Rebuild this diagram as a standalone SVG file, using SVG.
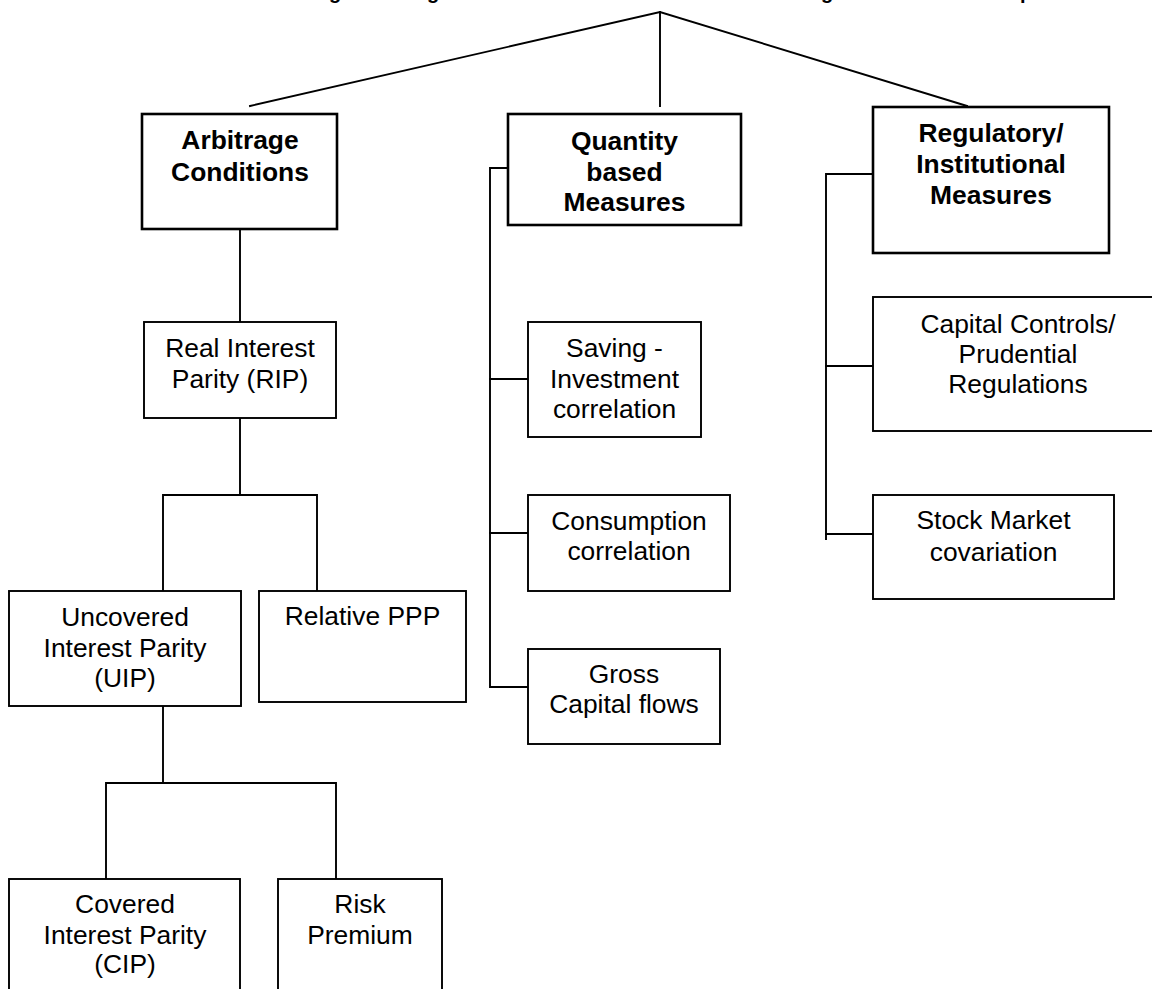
<svg xmlns="http://www.w3.org/2000/svg" width="1152" height="989" viewBox="0 0 1152 989">
<style>
.hdr{fill:#fff;stroke:#000;stroke-width:2.6}
.box{fill:#fff;stroke:#000;stroke-width:1.9}
.ln{fill:none;stroke:#000;stroke-width:1.9;stroke-linecap:square}
text{font-family:"Liberation Sans",Arial,sans-serif;font-size:26.4px;fill:#000;text-anchor:middle}
.b{font-weight:bold}
.t{font-weight:bold;font-size:20px}
</style>
<rect width="1152" height="989" fill="#fff"/>
<g id="title">
<text class="t" x="335" y="-1.5">g</text>
<text class="t" x="433" y="-1.5">g</text>
<text class="t" x="827" y="-1.5">g</text>
<text class="t" x="1026" y="-1.5">p</text>
</g>
<g id="connectors">
<polyline class="ln" points="250,106 660,12 967,106"/>
<line class="ln" x1="660" y1="12" x2="660" y2="106"/>
<line class="ln" x1="240" y1="229" x2="240" y2="322"/>
<line class="ln" x1="240" y1="418" x2="240" y2="495"/>
<polyline class="ln" points="163,591 163,495 317,495 317,591"/>
<line class="ln" x1="163" y1="706" x2="163" y2="783"/>
<polyline class="ln" points="106,879 106,783 336,783 336,879"/>
<polyline class="ln" points="508,168 490,168 490,687 528,687"/>
<line class="ln" x1="490" y1="379" x2="528" y2="379"/>
<line class="ln" x1="490" y1="533" x2="528" y2="533"/>
<polyline class="ln" points="873,174 826,174 826,539"/>
<line class="ln" x1="826" y1="366" x2="873" y2="366"/>
<line class="ln" x1="826" y1="534" x2="873" y2="534"/>
</g>
<g id="arbitrage">
<rect class="hdr" x="142" y="114" width="195" height="115"/>
<text class="b" x="240" y="149">Arbitrage</text>
<text class="b" x="240" y="181">Conditions</text>
</g>
<g id="quantity">
<rect class="hdr" x="508" y="114" width="233" height="111"/>
<text class="b" x="624.5" y="150">Quantity</text>
<text class="b" x="624.5" y="181">based</text>
<text class="b" x="624.5" y="211">Measures</text>
</g>
<g id="regulatory">
<rect class="hdr" x="873" y="107" width="236" height="146"/>
<text class="b" x="991" y="142">Regulatory/</text>
<text class="b" x="991" y="173">Institutional</text>
<text class="b" x="991" y="204">Measures</text>
</g>
<g id="rip">
<rect class="box" x="144" y="322" width="192" height="96"/>
<text x="240" y="357">Real Interest</text>
<text x="240" y="388">Parity (RIP)</text>
</g>
<g id="uip">
<rect class="box" x="9" y="591" width="232" height="115"/>
<text x="125" y="626">Uncovered</text>
<text x="125" y="657">Interest Parity</text>
<text x="125" y="687">(UIP)</text>
</g>
<g id="ppp">
<rect class="box" x="259" y="591" width="207" height="111"/>
<text x="362.5" y="625">Relative PPP</text>
</g>
<g id="cip">
<rect class="box" x="9" y="879" width="231" height="130"/>
<text x="125" y="913">Covered</text>
<text x="125" y="944">Interest Parity</text>
<text x="125" y="973">(CIP)</text>
</g>
<g id="risk">
<rect class="box" x="278" y="879" width="164" height="130"/>
<text x="360" y="913">Risk</text>
<text x="360" y="944">Premium</text>
</g>
<g id="saving">
<rect class="box" x="528" y="322" width="173" height="115"/>
<text x="614.5" y="357">Saving -</text>
<text x="614.5" y="388">Investment</text>
<text x="614.5" y="418">correlation</text>
</g>
<g id="consumption">
<rect class="box" x="528" y="495" width="202" height="96"/>
<text x="629" y="530">Consumption</text>
<text x="629" y="560">correlation</text>
</g>
<g id="gross">
<rect class="box" x="528" y="649" width="192" height="95"/>
<text x="624" y="683">Gross</text>
<text x="624" y="713">Capital flows</text>
</g>
<g id="capital">
<rect class="box" x="873" y="297" width="290" height="134"/>
<text x="1018" y="333">Capital Controls/</text>
<text x="1018" y="363">Prudential</text>
<text x="1018" y="393">Regulations</text>
</g>
<g id="stock">
<rect class="box" x="873" y="495" width="241" height="104"/>
<text x="993.5" y="529">Stock Market</text>
<text x="993.5" y="561">covariation</text>
</g>
</svg>
